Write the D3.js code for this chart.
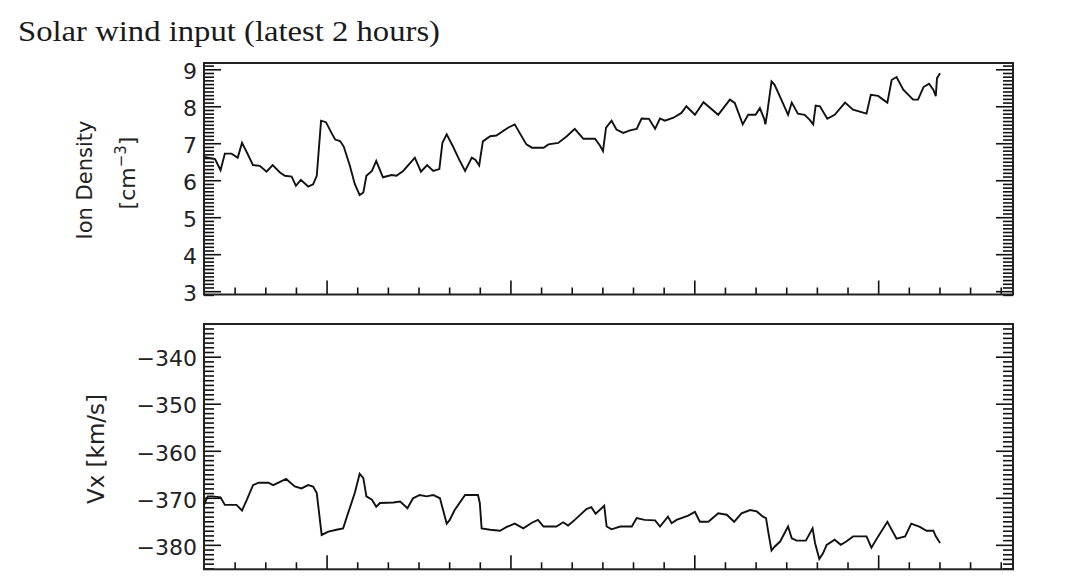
<!DOCTYPE html>
<html>
<head>
<meta charset="utf-8">
<script src="https://cdn.jsdelivr.net/npm/d3@7"></script>
<style>
  html, body { margin: 0; padding: 0; background: #fff; }
  svg { display: block; }
</style>
</head>
<body>
<svg id="chart" width="1080" height="584"></svg>
<script>
// ---- Data (minutes since start of the 2-hour window) ----
const densityMinutes = [0,1.8,2.7,3.4,4.5,5.5,6.2,7.0,8.0,9.1,
  10.2,11.2,12.4,13.2,14.3,15.0,15.8,17.0,17.8,18.4,
  19.1,19.9,20.8,21.4,22.2,22.8,23.8,24.6,25.4,26.0,
  26.5,27.4,28.1,29.2,30.6,31.4,32.5,34.4,35.4,36.4,
  37.4,38.4,38.9,39.6,40.6,41.6,42.6,43.7,44.3,44.9,
  45.5,46.7,47.7,49.6,50.7,51.5,52.6,53.5,55.4,56.2,
  57.8,59.2,60.5,61.9,63.8,64.6,65.1,65.6,66.5,67.3,
  68.4,69.5,70.6,71.4,72.6,73.6,74.4,75.2,76.6,77.9,
  78.7,80.1,81.5,83.9,85.8,86.6,87.9,88.8,90.0,90.7,
  91.4,91.6,91.9,92.6,93.1,94.2,95.3,95.9,96.9,98.0,
  98.8,99.4,99.8,100.5,101.7,102.9,104.6,105.9,108.1,108.8,
  110.0,110.8,111.5,112.2,113.0,114.1,115.7,116.5,117.4,118.3,
  119.0,119.4,119.6,120.1];
const densityValues = [6.63,6.57,6.27,6.72,6.72,6.61,7.01,6.75,6.41,6.39,
  6.23,6.41,6.21,6.12,6.10,5.85,6.01,5.83,5.89,6.12,
  7.61,7.57,7.28,7.10,7.06,6.91,6.39,5.90,5.60,5.67,
  6.12,6.25,6.52,6.08,6.14,6.12,6.25,6.61,6.23,6.41,
  6.25,6.30,7.01,7.24,6.92,6.57,6.25,6.61,6.55,6.40,
  7.05,7.19,7.21,7.42,7.51,7.28,6.97,6.88,6.88,6.97,
  7.01,7.19,7.39,7.12,7.12,6.94,6.79,7.42,7.61,7.37,
  7.28,7.35,7.39,7.67,7.66,7.39,7.67,7.61,7.69,7.82,
  8.00,7.77,8.11,7.77,8.18,8.09,7.51,7.77,7.77,7.95,
  7.66,7.51,7.82,8.67,8.58,8.18,7.77,8.10,7.80,7.77,
  7.64,7.51,8.02,8.00,7.66,7.77,8.10,7.91,7.80,8.31,
  8.28,8.18,8.10,8.71,8.79,8.45,8.18,8.18,8.52,8.61,
  8.45,8.27,8.76,8.89];

const vxMinutes = [0,0.6,1.4,2.7,3.4,5.3,6.2,7.0,8.0,8.9,10.5,
  11.3,13.4,14.8,15.9,17.0,17.8,18.4,19.2,20.3,21.6,
  22.7,23.5,24.6,25.4,26.0,26.5,27.4,28.1,28.7,30.9,
  32.0,33.2,34.1,35.2,36.3,37.4,38.5,39.6,40.1,40.9,
  42.6,44.7,45.0,45.3,46.7,48.3,49.4,50.7,52.1,53.5,
  54.5,55.4,57.5,58.6,59.4,60.5,62.4,63.2,63.9,65.3,
  65.7,66.5,67.9,69.8,70.6,71.9,73.6,74.4,75.7,76.3,
  77.1,79.0,80.1,80.9,82.3,83.9,85.3,86.5,87.7,89.1,
  90.2,91.2,91.7,92.1,92.6,93.1,94.0,95.3,95.9,96.7,
  98.2,99.3,99.7,100.4,101.0,101.6,102.9,103.9,104.8,105.9,
  108.1,108.9,110.0,111.5,113.0,114.4,115.4,116.8,117.9,119.0,
  119.4,120.1];
const vxValues = [-371.5,-369.7,-369.7,-369.9,-371.5,-371.5,-372.7,-370.4,-367.3,-366.8,-366.8,
  -367.3,-366.0,-367.6,-368.0,-367.3,-367.6,-369.0,-377.9,-377.2,-376.8,
  -376.5,-373.3,-369.0,-364.9,-365.8,-369.7,-370.4,-371.9,-371.1,-371.0,
  -370.8,-372.2,-370.1,-369.4,-369.7,-369.4,-370.1,-375.5,-374.7,-372.6,
  -369.4,-369.4,-371.1,-376.5,-376.8,-377.0,-376.2,-375.5,-376.5,-375.3,
  -374.7,-376.1,-376.1,-375.2,-375.9,-374.7,-372.4,-372.0,-373.4,-371.7,
  -376.1,-376.7,-376.1,-376.1,-374.3,-374.7,-374.8,-376.1,-374.0,-375.4,
  -374.7,-373.8,-373.0,-375.1,-375.1,-373.3,-373.6,-375.1,-373.3,-372.6,
  -372.9,-374.0,-374.3,-377.5,-381.2,-380.4,-379.3,-376.1,-378.6,-379.1,
  -379.1,-376.5,-379.6,-383.0,-381.8,-380.0,-378.9,-380.0,-379.3,-378.2,
  -378.2,-380.6,-378.2,-375.1,-378.7,-378.2,-375.5,-376.2,-377.0,-377.0,
  -378.2,-379.6];

// ---- Tick labels / axis definitions ----
const densityTickLabels = [3,4,5,6,7,8,9];
const vxTickLabels = [-380,-370,-360,-350,-340];
const timeMajorTicks = [20,50,80,110];
const titleText = "Solar wind input (latest 2 hours)";

// ---- Layout ----
const svg = d3.select("#chart");
const plotLeft = 204, plotRight = 1013;
const panels = {
  top: {y0: 63, y1: 294.5, domain: [2.91, 9.17]},
  bottom: {y0: 324, y1: 569.3, domain: [-385.2, -333.05]}
};
const x = d3.scaleLinear().domain([0, 132]).range([plotLeft, plotRight]);
const xMinor = d3.range(5, 131, 5).filter(v => !timeMajorTicks.includes(v));

const tickFont = "'DejaVu Sans', sans-serif";

svg.append("text")
  .attr("x", 18).attr("y", 41)
  .attr("font-family", "'Liberation Serif', 'DejaVu Serif', serif")
  .attr("font-size", 30)
  .attr("textLength", 422).attr("lengthAdjust", "spacingAndGlyphs")
  .attr("fill", "#1a1a1a")
  .text(titleText);

function drawPanel(p, yMajor, yMinor, xs, ys, fmt) {
  const y = d3.scaleLinear().domain(p.domain).range([p.y1, p.y0]);
  const g = svg.append("g");
  const styleLines = s => s.selectAll("line").attr("stroke", "#111").attr("stroke-width", 1.6);

  g.append("g").attr("transform", `translate(${plotLeft},0)`)
    .call(d3.axisLeft(y).tickValues(yMinor).tickSizeInner(-10).tickSizeOuter(0).tickFormat(""))
    .call(s => s.select(".domain").remove()).call(styleLines);
  g.append("g").attr("transform", `translate(${plotLeft},0)`)
    .call(d3.axisLeft(y).tickValues(yMajor).tickSizeInner(-17).tickSizeOuter(0).tickPadding(7).tickFormat(fmt))
    .call(s => s.select(".domain").remove()).call(styleLines)
    .call(s => s.selectAll("text").attr("font-family", tickFont).attr("font-size", 22)
      .attr("fill", "#222").attr("dy", "0.42em"));
  g.append("g").attr("transform", `translate(${plotRight},0)`)
    .call(d3.axisRight(y).tickValues(yMinor).tickSizeInner(-10).tickSizeOuter(0).tickFormat(""))
    .call(s => s.select(".domain").remove()).call(styleLines);
  g.append("g").attr("transform", `translate(${plotRight},0)`)
    .call(d3.axisRight(y).tickValues(yMajor).tickSizeInner(-17).tickSizeOuter(0).tickFormat(""))
    .call(s => s.select(".domain").remove()).call(styleLines);
  g.append("g").attr("transform", `translate(0,${p.y1})`)
    .call(d3.axisBottom(x).tickValues(xMinor).tickSizeInner(-7).tickSizeOuter(0).tickFormat(""))
    .call(s => s.select(".domain").remove()).call(styleLines);
  g.append("g").attr("transform", `translate(0,${p.y1})`)
    .call(d3.axisBottom(x).tickValues(timeMajorTicks).tickSizeInner(-14).tickSizeOuter(0).tickFormat(""))
    .call(s => s.select(".domain").remove()).call(styleLines);

  g.append("rect")
    .attr("x", plotLeft).attr("y", p.y0)
    .attr("width", plotRight - plotLeft).attr("height", p.y1 - p.y0)
    .attr("fill", "none").attr("stroke", "#222").attr("stroke-width", 2);

  const pts = xs.map((t, i) => [t, ys[i]]);
  g.append("path")
    .datum(pts)
    .attr("fill", "none").attr("stroke", "#111").attr("stroke-width", 1.9)
    .attr("d", d3.line().x(d => x(d[0])).y(d => y(d[1])));
  return y;
}

const yTopMinor = d3.range(29, 92).map(v => v / 10).filter(v => Math.abs(v - Math.round(v)) > 1e-6);
drawPanel(panels.top, densityTickLabels, yTopMinor, densityMinutes, densityValues, d3.format("d"));

const yBotMinor = d3.range(-385, -332).filter(v => v % 10 !== 0);
drawPanel(panels.bottom, vxTickLabels, yBotMinor, vxMinutes, vxValues, v => "\u2212" + Math.abs(v));

// axis titles (rotated)
const titleFont = "'DejaVu Sans', sans-serif";
svg.append("text")
  .attr("transform", "translate(92,180) rotate(-90)")
  .attr("text-anchor", "middle")
  .attr("font-family", titleFont).attr("font-size", 21).attr("fill", "#222")
  .text("Ion Density");

const cm = svg.append("text")
  .attr("transform", "translate(135,173) rotate(-90)")
  .attr("text-anchor", "middle")
  .attr("font-family", titleFont).attr("font-size", 22).attr("fill", "#222");
cm.append("tspan").text("[cm");
cm.append("tspan").attr("dy", -9).attr("font-size", 15).text("\u22123");
cm.append("tspan").attr("dy", 9).text("]");

svg.append("text")
  .attr("transform", "translate(104,449) rotate(-90)")
  .attr("text-anchor", "middle")
  .attr("font-family", titleFont).attr("font-size", 23).attr("fill", "#222")
  .text("Vx [km/s]");
</script>
</body>
</html>
